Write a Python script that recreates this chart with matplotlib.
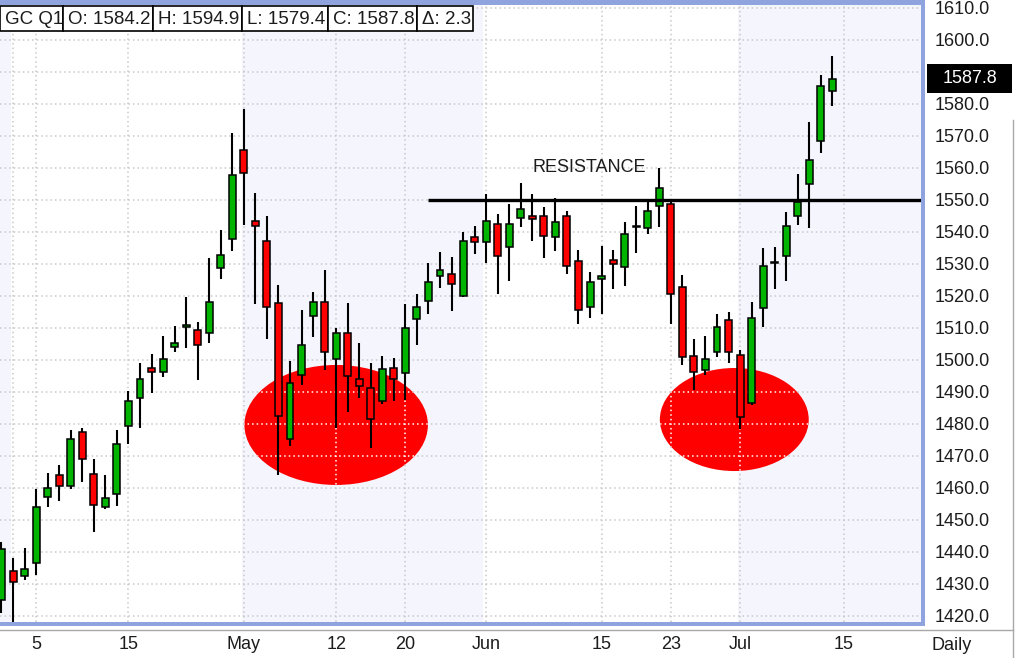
import matplotlib
matplotlib.use("Agg")
import numpy as np
from matplotlib import pyplot as plt
from matplotlib import font_manager
from matplotlib.patches import Rectangle, Ellipse

# GC Q1 daily bars, 31 Mar .. 14 Jul (one entry per trading day)
opens = [1425.0, 1434.0, 1432.5, 1436.5, 1457.1, 1464.0, 1460.7, 1477.4, 1464.5, 1454.2,
         1458.2, 1479.5, 1488.2, 1497.6, 1496.4, 1504.2, 1510.4, 1509.4, 1508.3, 1528.9,
         1537.7, 1565.6, 1543.5, 1537.3, 1517.7, 1475.2, 1495.3, 1513.8, 1518.2, 1500.2,
         1508.3, 1494.0, 1491.3, 1487.2, 1497.6, 1495.9, 1512.8, 1518.5, 1526.4, 1526.9,
         1520.1, 1538.3, 1536.8, 1542.4, 1535.2, 1544.5, 1545.0, 1545.0, 1538.3, 1545.0,
         1531.0, 1516.7, 1525.3, 1531.3, 1529.0, 1541.5, 1541.4, 1548.1, 1548.7, 1522.9,
         1501.3, 1496.9, 1502.6, 1512.5, 1501.6, 1486.5, 1516.1, 1530.2, 1532.5, 1545.0,
         1554.9, 1568.4, 1584.2]
highs = [1443.0, 1438.2, 1441.3, 1459.6, 1464.6, 1467.2, 1478.1, 1478.6, 1469.2, 1464.0,
         1478.1, 1490.3, 1499.2, 1501.8, 1507.5, 1510.6, 1519.8, 1512.0, 1531.8, 1540.6,
         1570.8, 1578.3, 1552.3, 1545.1, 1523.4, 1499.7, 1515.6, 1521.4, 1528.1, 1509.9,
         1517.9, 1505.4, 1499.2, 1501.3, 1500.7, 1517.4, 1520.5, 1530.2, 1533.9, 1532.3,
         1540.1, 1542.0, 1551.8, 1545.6, 1548.8, 1555.4, 1551.8, 1547.7, 1550.7, 1546.7,
         1534.4, 1527.6, 1535.7, 1534.4, 1543.0, 1548.2, 1549.7, 1560.0, 1549.3, 1526.6,
         1506.5, 1507.5, 1514.3, 1515.1, 1503.1, 1518.2, 1534.9, 1535.4, 1546.1, 1558.0,
         1574.5, 1589.0, 1594.9]
lows = [1421.0, 1417.9, 1431.2, 1432.8, 1454.0, 1456.0, 1459.6, 1461.8, 1446.3, 1453.3,
        1454.5, 1473.6, 1478.8, 1489.6, 1494.8, 1502.6, 1503.6, 1493.8, 1505.2, 1525.2,
        1534.1, 1542.2, 1517.5, 1506.7, 1464.0, 1473.1, 1492.2, 1507.3, 1496.9, 1478.6,
        1483.9, 1488.2, 1472.6, 1486.2, 1487.2, 1487.5, 1504.7, 1514.4, 1522.6, 1515.4,
        1519.8, 1533.0, 1530.4, 1520.5, 1524.8, 1541.7, 1537.2, 1532.0, 1534.2, 1526.8,
        1511.3, 1513.0, 1514.4, 1522.2, 1523.1, 1533.5, 1539.3, 1541.7, 1511.3, 1498.4,
        1490.6, 1495.3, 1500.8, 1499.0, 1478.3, 1486.0, 1510.2, 1522.1, 1524.7, 1542.2,
        1541.1, 1564.6, 1579.4]
closes = [1441.0, 1430.5, 1434.6, 1454.2, 1459.9, 1460.7, 1475.3, 1469.0, 1454.6, 1456.8,
          1473.8, 1487.2, 1494.0, 1496.4, 1500.2, 1505.4, 1510.8, 1504.7, 1518.2, 1532.8,
          1557.9, 1558.3, 1541.8, 1516.6, 1482.6, 1492.9, 1504.7, 1518.2, 1502.6, 1508.3,
          1495.0, 1491.9, 1481.5, 1497.1, 1494.0, 1509.9, 1516.7, 1524.5, 1528.1, 1523.8,
          1537.3, 1536.8, 1543.4, 1532.6, 1542.5, 1547.1, 1544.0, 1538.9, 1543.0, 1529.5,
          1515.6, 1524.3, 1526.4, 1530.0, 1539.4, 1541.9, 1546.7, 1553.6, 1520.6, 1501.0,
          1496.4, 1500.2, 1510.4, 1502.6, 1482.3, 1513.0, 1529.5, 1530.6, 1541.9, 1549.3,
          1562.5, 1585.5, 1587.8]

tick_pos = [1, 3, 11, 21, 29, 35, 42, 52, 58, 64, 73]
tick_labels = ['', '5', '15', 'May', '12', '20', 'Jun', '15', '23', 'Jul', '15']
month_starts = [21, 42, 64]
price_ticks = np.arange(1420, 1611, 10)
resistance = 1550.0
resistance_from = 36.96
# (center bar, center price, width in bars, height in price)
circles = [(29.0, 1479.7, 15.9, 37.5), (63.5, 1481.4, 12.9, 32.2)]

W, H = 1016, 658


def pick_font(names):
    for n in names:
        try:
            font_manager.findfont(n, fallback_to_default=False)
            return n
        except Exception:
            continue
    return None


narrow = pick_font(['Liberation Sans Narrow', 'Arial Narrow'])
if narrow:
    FONT, FS = narrow, 15.5
else:
    FONT, FS = 'Liberation Sans', 13
plt.rcParams['font.family'] = [FONT, 'DejaVu Sans']
TXT = '#1c1c1c'

fig = plt.figure(figsize=(W / 100, H / 100), dpi=100)
ax = fig.add_axes([0, 36 / H, 921 / W, 618 / H])

x0 = (0 - 1.5) / 11.54
x1 = (921 - 1.5) / 11.54
ax.set_xlim(x0, x1)
ax.set_ylim(1550 - 422 / 3.2, 1550 + 196 / 3.2)

# shaded months (Mar, May, Jul)
band = '#f4f5fd'
ax.axvspan(x0, 0.85, color=band, lw=0, zorder=0.1)
ax.axvspan(month_starts[0] - 0.15, month_starts[1] - 0.25, color=band, lw=0, zorder=0.1)
ax.axvspan(month_starts[2] - 0.15, x1, color=band, lw=0, zorder=0.1)

last_close = closes[-1]
ax.set_xticks(tick_pos)
ax.set_xticklabels(tick_labels)
ax.set_yticks(price_ticks)
# the level under the last-price tag is not labelled
ax.set_yticklabels(['' if abs(v - last_close) < 5 else f'{v:.1f}' for v in price_ticks])
ax.yaxis.tick_right()
ax.tick_params(axis='both', length=0, labelsize=FS, labelcolor=TXT)
ax.tick_params(axis='y', pad=10)
ax.tick_params(axis='x', pad=10)
ax.set_axisbelow(True)
dots = (0, (1, 2))
ax.grid(True, color='#c9c9c9', linestyle=dots, lw=1.1)
for s in ax.spines.values():
    s.set_visible(False)

# red circles behind the bars, grid shows white through them
for cx, cy, w, h in circles:
    e = Ellipse((cx, cy), w, h, facecolor='#ff0000', edgecolor='none', zorder=1)
    ax.add_patch(e)
    for v in price_ticks:
        ln = ax.axhline(v, color='white', linestyle=dots, lw=1.1, zorder=1.5)
        ln.set_clip_path(e)
    for v in tick_pos:
        ln = ax.axvline(v, color='white', linestyle=dots, lw=1.1, zorder=1.5)
        ln.set_clip_path(e)

# candles
idx = np.arange(len(opens))
o = np.array(opens)
c = np.array(closes)
up = c >= o
cols = np.where(up, '#00b400', '#ff0000')
ax.vlines(idx, lows, highs, color='black', lw=1.5, zorder=3)
body_lo = np.minimum(o, c)
body_h = np.maximum(np.abs(c - o), 0.35)
ax.bar(idx, body_h, bottom=body_lo, width=0.6, color=cols, edgecolor='black',
       linewidth=1.1, zorder=4)

ax.hlines(resistance, resistance_from, x1, color='black', lw=2.4, zorder=5)
ax.text(50.9, 1560.3, 'RESISTANCE', ha='center', va='center', fontsize=FS,
        color=TXT, zorder=6)

# overlay in pixel coordinates for the frame, header and price tag
ov = fig.add_axes([0, 0, 1, 1], zorder=10)
ov.set_xlim(0, W)
ov.set_ylim(H, 0)
ov.axis('off')
blue = '#8fa4de'
ov.add_patch(Rectangle((0, 0), 925, 4.5, color=blue, lw=0))
ov.add_patch(Rectangle((921, 0), 4, 626, color=blue, lw=0))
ov.add_patch(Rectangle((0, 622), 925, 4, color=blue, lw=0))
ov.plot([0, 1013], [630, 630], color='#a8a8a8', lw=1)
ov.plot([1013, 1013], [120, H], color='#a8a8a8', lw=1)

delta = closes[-1] - closes[-2]
header = [(0, 63, 'GC Q1'), (63, 153, f'O: {opens[-1]:.1f}'),
          (153, 242, f'H: {highs[-1]:.1f}'), (242, 328, f'L: {lows[-1]:.1f}'),
          (328, 417, f'C: {closes[-1]:.1f}'), (417, 473, f'Δ: {delta:.1f}')]
for a, b, t in header:
    ov.add_patch(Rectangle((a, 6), b - a, 25, facecolor='white', edgecolor='black', lw=1.2))
    ov.text(a + 5, 19, t, ha='left', va='center', fontsize=FS + 0.5, color=TXT)

ov.add_patch(Rectangle((927, 64), 85, 29, color='black', lw=0))
ov.text(969.5, 78.5, f'{last_close:.1f}', ha='center', va='center', fontsize=FS,
        color='white')
ov.text(952, 646, 'Daily', ha='center', va='center', fontsize=FS, color=TXT)

fig.savefig('out.png', dpi=100)
